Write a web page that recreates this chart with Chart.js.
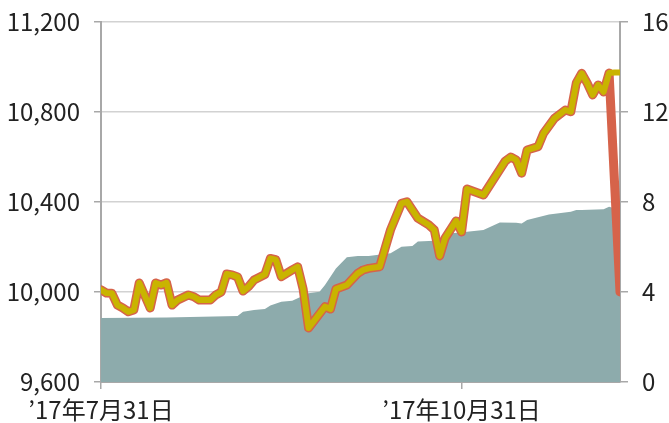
<!DOCTYPE html>
<html lang="ja">
<head>
<meta charset="utf-8">
<script src="https://cdn.jsdelivr.net/npm/chart.js@4/dist/chart.umd.min.js"></script>
<style>
  html, body { margin: 0; padding: 0; background: #fff; }
  #wrap { width: 669px; height: 423px; position: relative; }
</style>
</head>
<body>
<div id="wrap"><canvas id="chart"></canvas></div>
<script>
// 横軸は7月31日からの営業日数
const xTickDays = [0, 66];
const xTickLabels = ['’17年7月31日', '’17年10月31日'];

// 基準価額（左軸）
const navDays = [0, 1, 2, 3, 4, 5, 6, 7, 9, 10, 11, 12, 13, 14, 16, 17, 18, 20, 21, 22,
  23, 24, 25, 26, 27, 28, 30, 31, 32, 33, 35, 36, 37, 38, 41, 42, 43, 45, 47, 48,
  49, 51, 52, 53, 55, 56, 58, 60, 61, 62, 63, 65, 66, 67, 70, 74, 75, 76, 77, 78,
  80, 81, 83, 85, 86, 87, 88, 89, 90, 91, 92, 93, 94, 95];
const navValues = [10010, 9995, 9994, 9942, 9929, 9912, 9920, 10040, 9929, 10040, 10031, 10041, 9942, 9964, 9987, 9979, 9964, 9964, 9987, 10000,
  10080, 10076, 10067, 10004, 10024, 10053, 10078, 10149, 10144, 10068, 10098, 10112, 10013, 9840, 9935, 9924, 10013, 10031, 10083, 10098,
  10105, 10112, 10194, 10276, 10394, 10401, 10328, 10298, 10276, 10160, 10240, 10316, 10267, 10458, 10431, 10582, 10600, 10587, 10528, 10631,
  10646, 10705, 10772, 10809, 10801, 10929, 10972, 10928, 10876, 10920, 10889, 10973, 10976, 10976];
// 赤線は最後の点だけ値が違う（94日目は欠測）
const redValues = navValues.slice(0, -2).concat([null, 10000]);

// 純資産（右軸）
const assetDays = [0, 12, 25, 26, 28, 30, 31, 33, 35, 36, 38, 40, 41, 42, 43, 45, 47, 49, 53, 55,
  57, 58, 61, 63, 64, 66, 67, 70, 72, 73, 76, 77, 78, 80, 82, 86, 87, 88, 92, 93, 94, 95];
const assetValues = [2.84, 2.87, 2.93, 3.12, 3.2, 3.24, 3.4, 3.57, 3.61, 3.72, 3.94, 4.01, 4.31, 4.68, 5.05, 5.54, 5.6, 5.6, 5.72, 6.01,
  6.04, 6.24, 6.28, 6.31, 6.61, 6.64, 6.68, 6.76, 6.98, 7.09, 7.08, 7.05, 7.2, 7.32, 7.44, 7.57, 7.64, 7.64, 7.68, 7.79, 7.72, 7.7];

const leftTicks = { min: 9600, max: 11200, step: 400 };
const rightTicks = { min: 0, max: 16, step: 4 };

const toPoints = (days, vals) => days.map((d, i) => ({ x: d, y: vals[i] }));

const FONT = { family: '"Noto Sans CJK JP", "Noto Sans", sans-serif', size: 24 };
const AXIS = '#a8a8a8';

// 縦軸のラベルはみ出し分の余白を消して、プロット枠の位置を固定する
function fixVertical(width) {
  return scale => {
    scale.width = width;
    scale.paddingTop = 0;
    scale.paddingBottom = 0;
  };
}

new Chart(document.getElementById('chart'), {
  type: 'line',
  data: {
    datasets: [
      {
        label: '基準価額',
        data: toPoints(navDays, navValues),
        yAxisID: 'y',
        borderColor: '#c9b400',
        borderWidth: 6,
        borderJoinStyle: 'round',
        borderCapStyle: 'round',
        pointRadius: 0,
        tension: 0,
        fill: false,
        order: 1
      },
      {
        label: '基準価額（縁）',
        data: toPoints(navDays, redValues),
        yAxisID: 'y',
        borderColor: '#d6634a',
        borderWidth: 9,
        borderJoinStyle: 'round',
        borderCapStyle: 'round',
        spanGaps: true,
        pointRadius: 0,
        tension: 0,
        fill: false,
        order: 2
      },
      {
        label: '純資産',
        data: toPoints(assetDays, assetValues),
        yAxisID: 'y1',
        borderWidth: 0,
        backgroundColor: '#8dabac',
        pointRadius: 0,
        tension: 0,
        fill: 'origin',
        order: 3
      }
    ]
  },
  options: {
    responsive: true,
    maintainAspectRatio: false,
    animation: false,
    layout: { padding: { top: 22, left: 0, right: 0, bottom: 0 } },
    plugins: {
      legend: { display: false },
      tooltip: { enabled: false }
    },
    scales: {
      x: {
        type: 'linear',
        min: 0,
        max: 95,
        afterBuildTicks: scale => {
          scale.ticks = xTickDays.map(v => ({ value: v }));
        },
        ticks: {
          autoSkip: false,
          maxRotation: 0,
          padding: 6,
          color: '#222',
          font: FONT,
          callback: value => xTickLabels[xTickDays.indexOf(value)]
        },
        grid: { drawOnChartArea: false, tickLength: 7, color: AXIS, lineWidth: 1.5 },
        border: { color: AXIS, width: 2 },
        afterFit: scale => {
          scale.height = 41;
          scale.paddingLeft = 0;
          scale.paddingRight = 0;
        }
      },
      y: {
        position: 'left',
        min: leftTicks.min,
        max: leftTicks.max,
        ticks: {
          stepSize: leftTicks.step,
          padding: 14,
          color: '#222',
          font: FONT,
          callback: v => v.toLocaleString('en-US')
        },
        grid: { color: '#d2d2d2', lineWidth: 1.5, tickLength: 7, tickColor: AXIS },
        border: { color: AXIS, width: 2 },
        afterFit: fixVertical(101)
      },
      y1: {
        position: 'right',
        min: rightTicks.min,
        max: rightTicks.max,
        ticks: {
          stepSize: rightTicks.step,
          padding: 14,
          color: '#222',
          font: FONT
        },
        grid: { drawOnChartArea: false, tickLength: 8, color: AXIS, lineWidth: 1.5 },
        border: { color: AXIS, width: 2 },
        afterFit: fixVertical(49)
      }
    }
  }
});
</script>
</body>
</html>
